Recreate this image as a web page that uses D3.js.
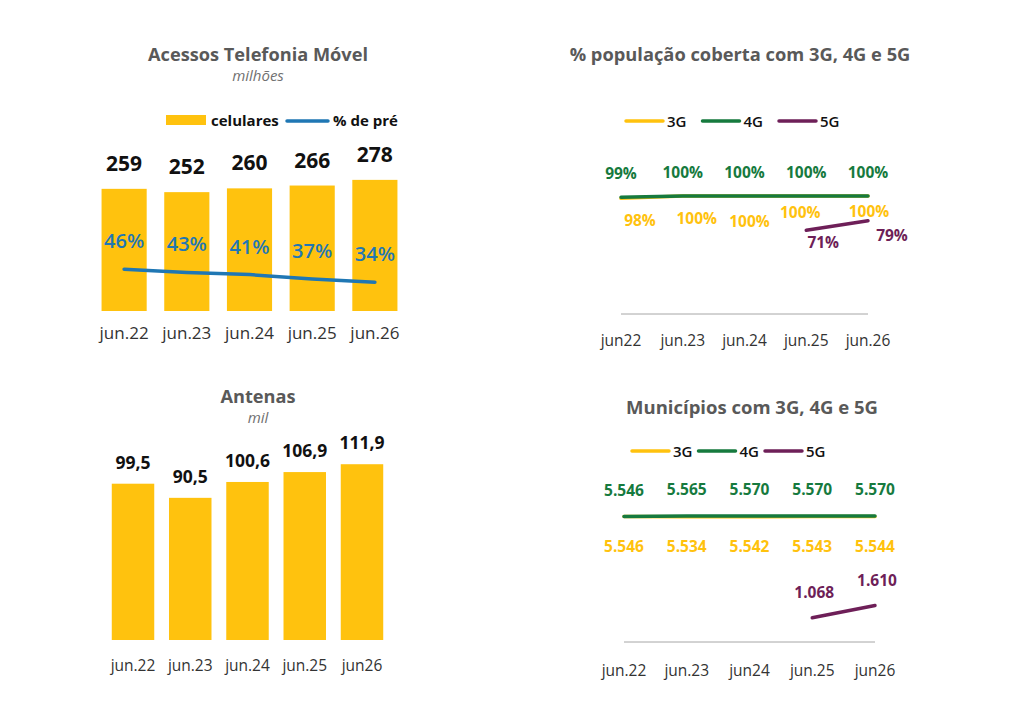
<!DOCTYPE html>
<html>
<head>
<meta charset="utf-8">
<script src="https://cdn.jsdelivr.net/npm/d3@7"></script>
<style>
  body { margin: 0; background: #fff; }
  svg { display: block; font-family: "Open Sans", "Noto Sans", sans-serif; }
  .title { font-weight: 700; fill: #595959; }
  .subtitle { font-style: italic; fill: #707070; }
  .xlab { fill: #333; }
</style>
</head>
<body>
<svg width="1024" height="709"></svg>
<script>
const YELLOW = "#FFC20E", BLUE = "#1F77B4", GREEN = "#167A3E", PURPLE = "#6E1F58";

// --- data ---
const acessosCats = ["jun.22", "jun.23", "jun.24", "jun.25", "jun.26"];
const celulares = [259, 252, 260, 266, 278];
const pctPre = [46, 43, 41, 37, 34];

const antenasCats = ["jun.22", "jun.23", "jun.24", "jun.25", "jun26"];
const antenas = [99.5, 90.5, 100.6, 106.9, 111.9];

const coberturaCats = ["jun22", "jun.23", "jun.24", "jun.25", "jun.26"];
const cob3G = [98, 100, 100, 100, 100];
const cob4G = [99, 100, 100, 100, 100];
const cob5G = [null, null, null, 71, 79];

const municipiosCats = ["jun.22", "jun.23", "jun24", "jun.25", "jun26"];
const mun3G = [5546, 5534, 5542, 5543, 5544];
const mun4G = [5546, 5565, 5570, 5570, 5570];
const mun5G = [null, null, null, 1068, 1610];

const seriesNames = ["3G", "4G", "5G"];

// label nudges for the coverage chart (layout only)
const cob3GNudge = [[19, 0], [14, 0], [5, 3], [-6, -6], [1, -7]];
const cob5GNudge = [[17, 18], [24, 20]];

const svg = d3.select("svg");
svg.append("rect").attr("width", 1024).attr("height", 709).attr("fill", "#fff");

const ptBR = d3.formatLocale({decimal: ",", thousands: ".", grouping: [3], currency: ["R$", ""]});
const fmtComma1 = ptBR.format(".1f");
const fmtThousands = ptBR.format(",d");

function title(cx, y, text, sub, size) {
  svg.append("text").attr("class", "title").attr("x", cx).attr("y", y)
    .attr("text-anchor", "middle").attr("font-size", size).text(text);
  if (sub) {
    svg.append("text").attr("class", "subtitle").attr("x", cx).attr("y", y + 20)
      .attr("text-anchor", "middle").attr("font-size", 15).text(sub);
  }
}

function xLabels(g, x, cats, y, size, center) {
  g.selectAll(".xlab").data(cats).join("text")
    .attr("class", "xlab")
    .attr("x", d => center(d))
    .attr("y", y)
    .attr("text-anchor", "middle")
    .attr("font-size", size)
    .text(d => d);
}

// ---------- Acessos Telefonia Móvel ----------
{
  const g = svg.append("g");
  title(258, 61, "Acessos Telefonia Móvel", "milhões", 18.2);

  const x = d3.scaleBand().domain(acessosCats).range([84, 415]).padding(0.28);
  const y = d3.scaleLinear().domain([0, 300]).range([311, 169.5]);
  const y2 = d3.scaleLinear().domain([0, 100]).range([319, 210.7]);

  g.selectAll(".bar").data(celulares).join("rect")
    .attr("x", (d, i) => x(acessosCats[i]))
    .attr("y", d => y(d))
    .attr("width", x.bandwidth())
    .attr("height", d => y(0) - y(d))
    .attr("fill", YELLOW);

  g.selectAll(".val").data(celulares).join("text")
    .attr("x", (d, i) => x(acessosCats[i]) + x.bandwidth() / 2)
    .attr("y", d => y(d) - 18)
    .attr("text-anchor", "middle")
    .attr("font-size", 21).attr("font-weight", 700).attr("fill", "#111")
    .text(d => d);

  const line = d3.line()
    .x((d, i) => x(acessosCats[i]) + x.bandwidth() / 2)
    .y(d => y2(d));
  g.append("path").datum(pctPre).attr("d", line)
    .attr("fill", "none").attr("stroke", BLUE).attr("stroke-width", 3.5)
    .attr("stroke-linecap", "round").attr("stroke-linejoin", "round");

  g.selectAll(".pct").data(pctPre).join("text")
    .attr("x", (d, i) => x(acessosCats[i]) + x.bandwidth() / 2)
    .attr("y", d => y2(d) - 21)
    .attr("text-anchor", "middle")
    .attr("font-size", 20).attr("font-weight", 600).attr("fill", BLUE)
    .text(d => d + "%");

  xLabels(g, x, acessosCats, 339, 17, d => x(d) + x.bandwidth() / 2);

  // legend
  g.append("rect").attr("x", 166).attr("y", 115).attr("width", 40).attr("height", 10).attr("fill", YELLOW);
  g.append("text").attr("x", 211).attr("y", 126).attr("font-size", 15).attr("font-weight", 700)
    .attr("fill", "#111").text("celulares");
  g.append("line").attr("x1", 287).attr("x2", 328).attr("y1", 121).attr("y2", 121)
    .attr("stroke", BLUE).attr("stroke-width", 3.5).attr("stroke-linecap", "round");
  g.append("text").attr("x", 333).attr("y", 126).attr("font-size", 15).attr("font-weight", 700)
    .attr("fill", "#111").text("% de pré");
}

// ---------- Antenas ----------
{
  const g = svg.append("g");
  title(258, 403, "Antenas", "mil", 18.2);

  const x = d3.scaleBand().domain(antenasCats).range([97, 398]).padding(0.258);
  const y = d3.scaleLinear().domain([0, 120]).range([640, 451.5]);

  g.selectAll(".bar").data(antenas).join("rect")
    .attr("x", (d, i) => x(antenasCats[i]))
    .attr("y", d => y(d))
    .attr("width", x.bandwidth())
    .attr("height", d => y(0) - y(d))
    .attr("fill", YELLOW);

  g.selectAll(".val").data(antenas).join("text")
    .attr("x", (d, i) => x(antenasCats[i]) + x.bandwidth() / 2)
    .attr("y", d => y(d) - 15)
    .attr("text-anchor", "middle")
    .attr("font-size", 17.5).attr("font-weight", 700).attr("fill", "#111")
    .text(d => fmtComma1(d));

  xLabels(g, x, antenasCats, 671, 15.5, d => x(d) + x.bandwidth() / 2);
}

// ---------- line charts ----------
function lineChart(opt) {
  const g = svg.append("g");
  title(opt.titleX, opt.titleY, opt.title, null, opt.titleSize);

  const x = d3.scalePoint().domain(opt.cats).range(opt.xRange);
  const y = d3.scaleLinear().domain(opt.yDomain).range(opt.yRange);

  g.append("line")
    .attr("x1", opt.xRange[0]).attr("x2", opt.xRange[1])
    .attr("y1", y(0)).attr("y2", y(0))
    .attr("stroke", "#a6a6a6").attr("stroke-width", 1);

  const line = d3.line()
    .defined(d => d != null)
    .x((d, i) => x(opt.cats[i]))
    .y(d => y(d));

  const colors = [YELLOW, GREEN, PURPLE];
  opt.series.forEach((s, k) => {
    g.append("path").datum(s).attr("d", line)
      .attr("fill", "none").attr("stroke", colors[k]).attr("stroke-width", 3.5)
      .attr("stroke-linecap", "round");
  });

  // labels
  opt.series.forEach((s, k) => {
    const pts = s.map((v, i) => ({v, i})).filter(d => d.v != null);
    g.selectAll(".lab" + k).data(pts).join("text")
      .attr("x", (d, j) => x(opt.cats[d.i]) + opt.nudge[k](d, j)[0])
      .attr("y", (d, j) => y(d.v) + opt.offsets[k] + opt.nudge[k](d, j)[1])
      .attr("text-anchor", "middle")
      .attr("font-size", opt.labelSize).attr("font-weight", 700).attr("fill", colors[k])
      .text(d => opt.fmt(d.v));
  });

  xLabels(g, x, opt.cats, opt.xLabY, 15.5, d => x(d));

  // legend
  seriesNames.forEach((name, k) => {
    const lx = opt.legendX + k * opt.legendStep;
    g.append("line").attr("x1", lx).attr("x2", lx + 37)
      .attr("y1", opt.legendY).attr("y2", opt.legendY)
      .attr("stroke", colors[k]).attr("stroke-width", 3.5).attr("stroke-linecap", "round");
    g.append("text").attr("x", lx + 41).attr("y", opt.legendY + 5.5)
      .attr("font-size", 15).attr("font-weight", 600).attr("fill", "#111").text(name);
  });
}

lineChart({
  title: "% população coberta com 3G, 4G e 5G", titleX: 740, titleY: 61, titleSize: 18.3,
  cats: coberturaCats, xRange: [621, 868],
  yDomain: [0, 100], yRange: [314, 196],
  series: [cob3G, cob4G, cob5G],
  offsets: [28, -18, 0],
  nudge: [(d, j) => cob3GNudge[d.i], () => [0, 0], (d, j) => cob5GNudge[j]],
  fmt: v => v + "%", labelSize: 15.5,
  xLabY: 346, legendX: 626, legendStep: 76.5, legendY: 121
});

lineChart({
  title: "Municípios com 3G, 4G e 5G", titleX: 752, titleY: 414, titleSize: 18.5,
  cats: municipiosCats, xRange: [624, 875],
  yDomain: [0, 5570], yRange: [642, 516],
  series: [mun3G, mun4G, mun5G],
  offsets: [35, -21, -20],
  nudge: [() => [0, 0], () => [0, 0], () => [2, 0]],
  fmt: v => fmtThousands(v), labelSize: 15.5,
  xLabY: 676, legendX: 632, legendStep: 66.5, legendY: 451
});
</script>
</body>
</html>
